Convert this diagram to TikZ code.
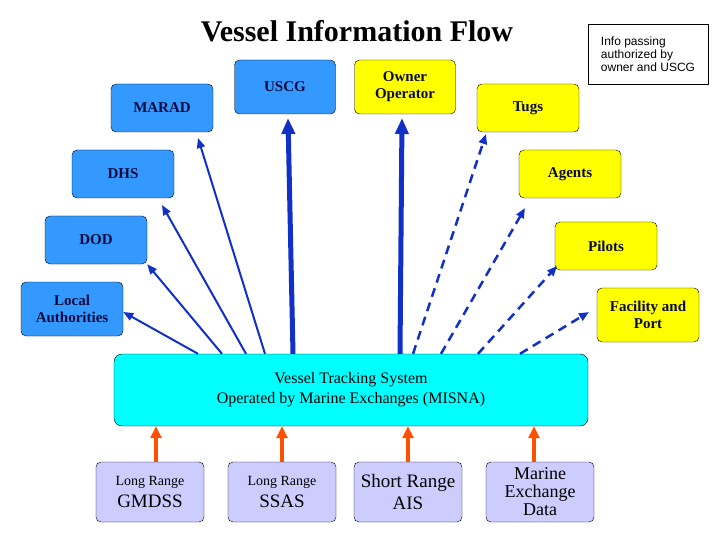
\documentclass[tikz,border=0pt]{standalone}
\usepackage{fontspec}
\setmainfont{Liberation Serif}
\newfontfamily\infofont{Liberation Sans}
\usetikzlibrary{arrows.meta}
\definecolor{agencyblue}{RGB}{51,153,255}
\definecolor{partyyellow}{RGB}{255,255,0}
\definecolor{vtscyan}{RGB}{0,255,255}
\definecolor{sourcelilac}{RGB}{204,204,255}
\definecolor{arrowblue}{RGB}{16,48,200}
\definecolor{arrowred}{RGB}{255,80,0}
\definecolor{labelnavy}{RGB}{10,10,60}
\tikzset{
  box/.style={draw, rounded corners=5pt, minimum width=102pt, minimum height=48pt,
    align=center, font=\fontsize{15}{17}\selectfont\bfseries, text=labelnavy},
  agency/.style={box, fill=agencyblue},
  party/.style={box, fill=partyyellow},
  source/.style={draw, rounded corners=5pt, fill=sourcelilac, minimum width=108pt,
    minimum height=60pt, align=center},
  solid flow/.style={-{Triangle[length=10pt,width=8pt]}, arrowblue, line width=2pt},
  thick flow/.style={-{Triangle[length=16pt,width=13pt]}, arrowblue, line width=5pt},
  dashed flow/.style={-{Triangle[length=10pt,width=8pt]}, arrowblue, line width=2.5pt, dash pattern=on 9pt off 6pt},
  feed/.style={-{Triangle[length=12pt,width=11pt]}, arrowred, line width=4pt}
}
\begin{document}
\begin{tikzpicture}[x=1pt,y=-1pt]
  \useasboundingbox (0,0) rectangle (720,540);

  % title and note
  \node (title) at (357,31) {\fontsize{30}{32}\selectfont\bfseries Vessel Information Flow};
  \node[draw, minimum width=120pt, minimum height=60pt, align=left,
    font=\infofont\fontsize{12}{13}\selectfont] (note) at (648,54)
    {Info passing\\authorized by\\owner and USCG};

  % agencies
  \node[agency] (marad) at (162,108) {MARAD};
  \node[agency, minimum width=101pt, minimum height=54pt] (uscg) at (285,87) {USCG};
  \node[agency] (dhs) at (123,174) {DHS};
  \node[agency] (dod) at (96,240) {DOD};
  \node[agency, minimum height=54pt] (local) at (72,309) {Local\\Authorities};

  % owner and partners
  \node[party, minimum width=101pt, minimum height=54pt] (owner) at (405,87) {Owner\\Operator};
  \node[party] (tugs) at (528,108) {Tugs};
  \node[party] (agents) at (570,174) {Agents};
  \node[party] (pilots) at (606,246) {Pilots};
  \node[party, minimum height=54pt] (facility) at (648,315) {Facility and\\Port};

  % tracking system
  \node[draw, rounded corners=8pt, fill=vtscyan, minimum width=474pt, minimum height=72pt,
    align=center, font=\fontsize{16}{20}\selectfont] (vts) at (351,390)
    {Vessel Tracking System\\Operated by Marine Exchanges (MISNA)};

  % data sources
  \node[source, font=\fontsize{19}{22}\selectfont] (gmdss) at (150,492) {{\fontsize{14}{16}\selectfont Long Range}\\GMDSS};
  \node[source, font=\fontsize{19}{22}\selectfont] (ssas) at (282,492) {{\fontsize{14}{16}\selectfont Long Range}\\SSAS};
  \node[source, font=\fontsize{19}{22}\selectfont] (ais) at (408,492) {Short Range\\AIS};
  \node[source, font=\fontsize{18}{18}\selectfont] (data) at (540,492) {Marine\\Exchange\\Data};

  % inputs
  \foreach \src/\x in {gmdss/156, ssas/282, ais/408, data/534} {
    \draw[feed] (\src.north -| \x,0) -- (vts.south -| \x,0);
  }

  % outputs to agencies
  \draw[solid flow] (vts.north -| 198,0) -- (local.east |- 0,312);
  \draw[solid flow] (vts.north -| 222,0) -- (dod.south east);
  \draw[solid flow] (vts.north -| 246,0) -- (162,205);
  \draw[solid flow] (vts.north -| 265,0) -- (198,138);
  \draw[thick flow] (vts.north -| 293,0) -- (288,118);
  \draw[thick flow] (vts.north -| 400,0) -- (402,118);

  % outputs to partners
  \draw[dashed flow] (vts.north -| 413,0) -- (486,134);
  \draw[dashed flow] (vts.north -| 441,0) -- (525,208);
  \draw[dashed flow] (vts.north -| 478,0) -- (557,266);
  \draw[dashed flow] (vts.north -| 520,0) -- (589,312);
\end{tikzpicture}
\end{document}
